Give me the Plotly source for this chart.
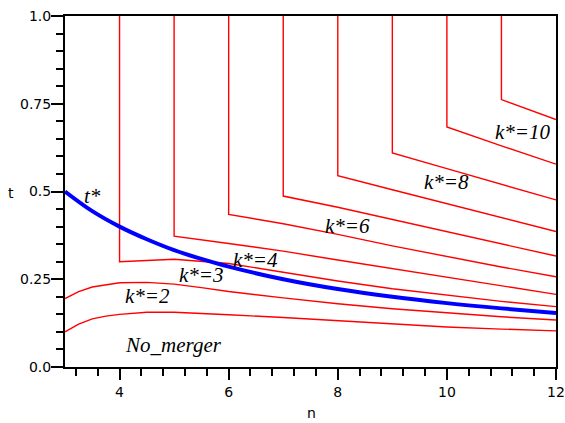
import plotly.graph_objects as go

# ---- data ----
n_low = [3, 3.25, 3.5, 3.75, 4, 4.5, 5, 5.5, 6, 7, 8, 9, 10, 11, 12]
t_no_merger = [0.100, 0.122, 0.137, 0.145, 0.150, 0.156, 0.156, 0.153, 0.149, 0.141, 0.132, 0.122, 0.114, 0.108, 0.103]
t_k2_bound = [0.195, 0.215, 0.228, 0.235, 0.240, 0.241, 0.236, 0.226, 0.215, 0.197, 0.180, 0.166, 0.154, 0.143, 0.134]

step_n = [4, 5, 6, 7, 8, 9, 10, 11, 12]
bound_n4 = [0.300, 0.307, 0.295, 0.270, 0.245, 0.223, 0.204, 0.187, 0.172]
bound_n5 = [0.373, 0.352, 0.330, 0.305, 0.280, 0.255, 0.230, 0.207]
bound_n6 = [0.435, 0.408, 0.378, 0.345, 0.314, 0.285, 0.257]
bound_n7 = [0.487, 0.455, 0.420, 0.384, 0.350, 0.316]
bound_n8 = [0.545, 0.505, 0.465, 0.425, 0.386]
bound_n9 = [0.610, 0.565, 0.520, 0.476]
bound_n10 = [0.684, 0.630, 0.578]
bound_n11 = [0.762, 0.705]

n_star = [3, 3.5, 4, 4.5, 5, 5.5, 6, 7, 8, 9, 10, 11, 12]
t_star = [0.500, 0.444, 0.400, 0.364, 0.333, 0.308, 0.286, 0.250, 0.222, 0.200, 0.182, 0.167, 0.154]

labels = ["<i>t*</i>", "<i>k*=2</i>", "<i>k*=3</i>", "<i>k*=4</i>", "<i>k*=6</i>",
          "<i>k*=8</i>", "<i>k*=10</i>", "<i>No_merger</i>"]
label_n = [3.50, 4.51, 5.50, 6.49, 8.18, 9.99, 11.39, 4.99]
label_t = [0.488, 0.202, 0.263, 0.305, 0.401, 0.527, 0.669, 0.062]

x_ticks = [4, 6, 8, 10, 12]
y_ticks = [0, 0.25, 0.5, 0.75, 1.0]
y_ticktext = ["0.0", "0.25", "0.5", "0.75", "1.0"]

# ---- figure ----
red = dict(color="#ff0000", width=1.4)
fig = go.Figure()
fig.add_trace(go.Scatter(x=n_low, y=t_no_merger, mode="lines", line=red, hoverinfo="skip"))
fig.add_trace(go.Scatter(x=n_low, y=t_k2_bound, mode="lines", line=red, hoverinfo="skip"))

bounds = [bound_n4, bound_n5, bound_n6, bound_n7, bound_n8, bound_n9, bound_n10, bound_n11]
for i, b in enumerate(bounds):
    xs = step_n[i:]
    fig.add_trace(go.Scatter(x=[xs[0]] + xs, y=[1.0] + b, mode="lines",
                             line=red, hoverinfo="skip"))

fig.add_trace(go.Scatter(x=n_star, y=t_star, mode="lines", line_shape="spline",
                         line=dict(color="#0000ff", width=4), hoverinfo="skip"))

lab_font = dict(family="Liberation Serif, Times New Roman, serif", size=21, color="black")
for txt, xn, yt in zip(labels, label_n, label_t):
    fig.add_annotation(x=xn, y=yt, text=txt, showarrow=False, font=lab_font,
                       xanchor="center", yanchor="middle")

tick_font = dict(family="DejaVu Sans, Verdana, sans-serif", size=14, color="black")
W, H = 565, 423
L, R, T, B = 65, 9, 16, 56


def to_paper(px, py):
    return (px - L) / (W - L - R), 1 - (py - T) / (H - T - B)


tx, ty = to_paper(11, 193)
fig.add_annotation(x=tx, y=ty, xref="paper", yref="paper", text="t", showarrow=False,
                   font=tick_font, xanchor="center", yanchor="middle")
nx, ny = to_paper(311, 413)
fig.add_annotation(x=nx, y=ny, xref="paper", yref="paper", text="n", showarrow=False,
                   font=tick_font, xanchor="center", yanchor="middle")

fig.update_layout(
    width=W, height=H,
    margin=dict(l=L, r=R, t=T, b=B, autoexpand=False),
    paper_bgcolor="white", plot_bgcolor="white",
    showlegend=False,
    xaxis=dict(range=[3, 12], tickvals=x_ticks, ticks="outside", ticklen=11, tickwidth=1.5,
               tickcolor="black", showline=True, linewidth=2, linecolor="black", mirror=True,
               showgrid=False, zeroline=False, tickfont=tick_font, automargin=False,
               minor=dict(ticks="outside", ticklen=7, tick0=4, dtick=0.4, tickwidth=1.5,
                          tickcolor="black", showgrid=False)),
    yaxis=dict(range=[0, 1], tickvals=y_ticks, ticktext=y_ticktext, ticks="outside", ticklen=12,
               tickwidth=1.5, tickcolor="black", showline=True, linewidth=2, linecolor="black",
               mirror=True, showgrid=False, zeroline=False, tickfont=tick_font, automargin=False,
               ticklabelstandoff=-3,
               minor=dict(ticks="outside", ticklen=7, tick0=0, dtick=0.05, tickwidth=1.5,
                          tickcolor="black", showgrid=False)),
)

fig.write_html("out.html", config={"displayModeBar": False},
               post_script="document.body.style.margin='0px';document.body.style.overflow='hidden';")
